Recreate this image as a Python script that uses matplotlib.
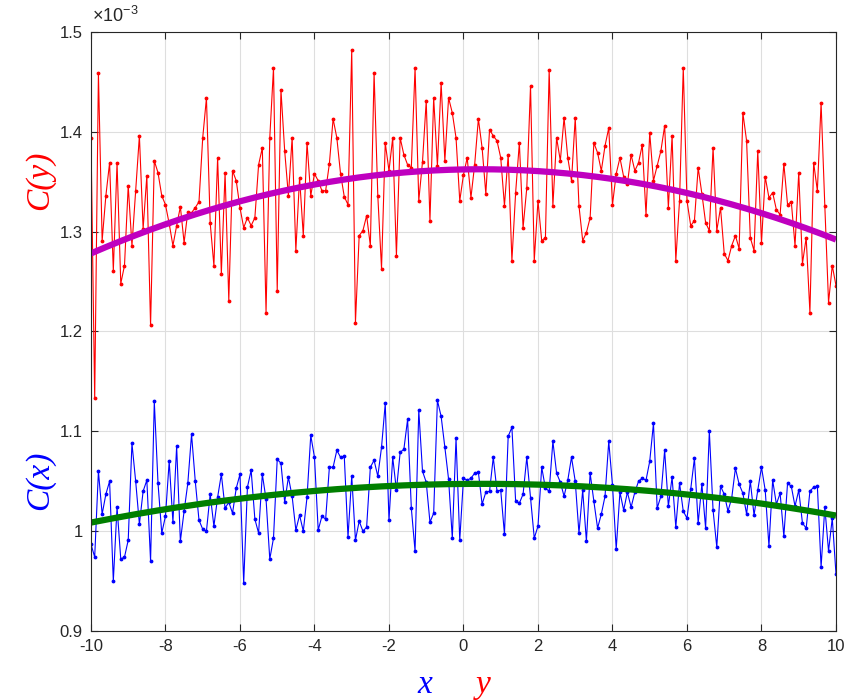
import numpy as np
import matplotlib
matplotlib.use("Agg")
import matplotlib.pyplot as plt
from matplotlib.ticker import FuncFormatter

# x grid: -10 .. 10 step 0.1 (201 samples)
x = np.linspace(-10, 10, 201)

# C(y) samples, in units of 1e-3
cy = [1.394, 1.133, 1.459, 1.291, 1.336, 1.369, 1.261, 1.369, 1.248, 1.266,
      1.346, 1.286, 1.341, 1.396, 1.303, 1.356, 1.206, 1.371, 1.359, 1.336,
      1.327, 1.308, 1.286, 1.306, 1.325, 1.289, 1.320, 1.319, 1.324, 1.330,
      1.394, 1.434, 1.309, 1.266, 1.374, 1.258, 1.359, 1.231, 1.361, 1.351,
      1.324, 1.304, 1.314, 1.306, 1.314, 1.367, 1.384, 1.219, 1.394, 1.464,
      1.241, 1.442, 1.381, 1.336, 1.394, 1.281, 1.354, 1.296, 1.389, 1.336,
      1.358, 1.351, 1.341, 1.341, 1.368, 1.413, 1.394, 1.358, 1.335, 1.327,
      1.482, 1.209, 1.296, 1.301, 1.316, 1.286, 1.459, 1.336, 1.263, 1.389,
      1.361, 1.394, 1.276, 1.394, 1.377, 1.367, 1.364, 1.464, 1.331, 1.370,
      1.431, 1.311, 1.434, 1.366, 1.449, 1.371, 1.434, 1.419, 1.394, 1.331,
      1.357, 1.374, 1.334, 1.367, 1.413, 1.384, 1.338, 1.402, 1.396, 1.391,
      1.374, 1.326, 1.377, 1.271, 1.339, 1.389, 1.304, 1.344, 1.446, 1.271,
      1.331, 1.291, 1.294, 1.462, 1.326, 1.394, 1.371, 1.414, 1.374, 1.351,
      1.414, 1.326, 1.291, 1.299, 1.314, 1.389, 1.379, 1.361, 1.386, 1.404,
      1.327, 1.358, 1.374, 1.355, 1.348, 1.377, 1.361, 1.369, 1.387, 1.317,
      1.399, 1.351, 1.366, 1.381, 1.406, 1.324, 1.396, 1.271, 1.331, 1.464,
      1.331, 1.306, 1.311, 1.364, 1.338, 1.309, 1.301, 1.384, 1.301, 1.324,
      1.278, 1.271, 1.286, 1.296, 1.283, 1.419, 1.391, 1.294, 1.281, 1.381,
      1.289, 1.355, 1.334, 1.339, 1.322, 1.317, 1.368, 1.327, 1.330, 1.286,
      1.359, 1.268, 1.294, 1.219, 1.369, 1.341, 1.429, 1.326, 1.229, 1.266,
      1.246]

# C(x) samples, in units of 1e-3
cx = [0.987, 0.974, 1.060, 1.017, 1.037, 1.050, 0.950, 1.024, 0.972, 0.974,
      0.991, 1.088, 1.050, 1.007, 1.040, 1.051, 0.970, 1.130, 1.048, 0.998,
      1.015, 1.070, 1.009, 1.085, 0.990, 1.020, 1.048, 1.097, 1.050, 1.011,
      1.002, 1.000, 1.037, 1.005, 1.034, 1.057, 1.023, 1.029, 1.018, 1.043,
      1.057, 0.948, 1.044, 1.061, 1.012, 0.998, 1.057, 1.032, 0.972, 0.993,
      1.072, 1.068, 1.029, 1.054, 1.035, 1.001, 1.016, 1.000, 1.034, 1.096,
      1.074, 1.001, 1.015, 1.012, 1.064, 1.064, 1.081, 1.074, 1.075, 0.994,
      1.055, 0.991, 1.010, 1.000, 1.004, 1.064, 1.071, 1.055, 1.084, 1.128,
      1.011, 1.074, 1.041, 1.079, 1.082, 1.112, 1.023, 0.980, 1.121, 1.060,
      1.049, 1.009, 1.018, 1.131, 1.115, 1.084, 1.052, 0.993, 1.093, 0.991,
      1.053, 1.051, 1.053, 1.058, 1.059, 1.027, 1.039, 1.040, 1.074, 1.040,
      1.041, 0.997, 1.095, 1.104, 1.030, 1.028, 1.037, 1.074, 1.033, 0.993,
      1.005, 1.064, 1.043, 1.040, 1.090, 1.058, 1.049, 1.035, 1.051, 1.074,
      1.050, 0.998, 1.041, 0.990, 1.058, 1.030, 1.003, 1.017, 1.035, 1.090,
      1.046, 0.982, 1.039, 1.021, 1.039, 1.024, 1.039, 1.050, 1.053, 1.051,
      1.070, 1.108, 1.023, 1.035, 1.081, 1.025, 1.054, 1.004, 1.048, 1.020,
      1.013, 1.042, 1.073, 1.008, 1.047, 1.003, 1.100, 1.021, 0.984, 1.045,
      1.037, 1.020, 1.033, 1.063, 1.047, 1.038, 1.017, 1.050, 1.016, 1.041,
      1.064, 1.041, 0.985, 1.051, 1.027, 1.038, 0.995, 1.048, 1.045, 1.025,
      1.041, 1.008, 1.003, 1.040, 1.044, 1.045, 0.964, 1.024, 0.980, 1.013,
      0.957]

# quadratic fit curves: (curvature, peak x, peak value)
fit_y_params = (-0.000772, 0.45, 1.3625)
fit_x_params = (-0.000352, 0.5, 1.0474)

cy = np.array(cy)
cx = np.array(cx)


def quad(p):
    a, h, k = p
    return a * (x - h) ** 2 + k


fit_y = quad(fit_y_params)
fit_x = quad(fit_x_params)

plt.rcParams['font.family'] = 'Liberation Sans'
plt.rcParams['mathtext.fontset'] = 'custom'
plt.rcParams['mathtext.rm'] = 'Liberation Sans'
fig = plt.figure(figsize=(8.47, 7.0), dpi=100)
ax = fig.add_axes([0.1074, 0.0986, 0.8796, 0.8557])

ax.plot(x, cy, '-', color='#ff0000', lw=0.8, marker='.', ms=3.5)
ax.plot(x, fit_y, '-', color='#bf00bf', lw=4.5, solid_capstyle='butt')
ax.plot(x, cx, '-', color='#0000ff', lw=0.8, marker='.', ms=3.5)
ax.plot(x, fit_x, '-', color='#007f00', lw=4.5, solid_capstyle='butt')

ax.set_xlim(-10, 10)
ax.set_ylim(0.9, 1.5)
ax.set_xticks(np.arange(-10, 11, 2))
ax.set_yticks(np.arange(0.9, 1.51, 0.1))
ax.xaxis.set_major_formatter(FuncFormatter(lambda v, p: f"{v:g}"))
ax.yaxis.set_major_formatter(FuncFormatter(lambda v, p: f"{round(v, 2):g}"))
ax.grid(True, color='#dedede', lw=0.8)
ax.set_axisbelow(True)
ax.tick_params(direction='in', top=True, right=True, labelsize=12,
               colors='#262626', length=5, pad=6)
for s in ax.spines.values():
    s.set_color('#262626')
    s.set_linewidth(0.8)

fig.text(0.109, 0.963, r'$\times10^{-3}$', fontsize=13, color='#262626',
         ha='left', va='bottom')

serif = dict(family='Liberation Serif', style='italic', fontsize=24)
fig.text(0.047, 0.743, 'C(y)', color='#ff0000', rotation=90,
         ha='center', va='center', **serif)
fig.text(0.047, 0.314, 'C(x)', color='#0000ff', rotation=90,
         ha='center', va='center', **serif)
fig.text(0.502, 0.022, 'x', color='#0000ff', ha='center', va='center', **serif)
fig.text(0.571, 0.022, 'y', color='#ff0000', ha='center', va='center', **serif)

fig.savefig('out.png', dpi=100)
